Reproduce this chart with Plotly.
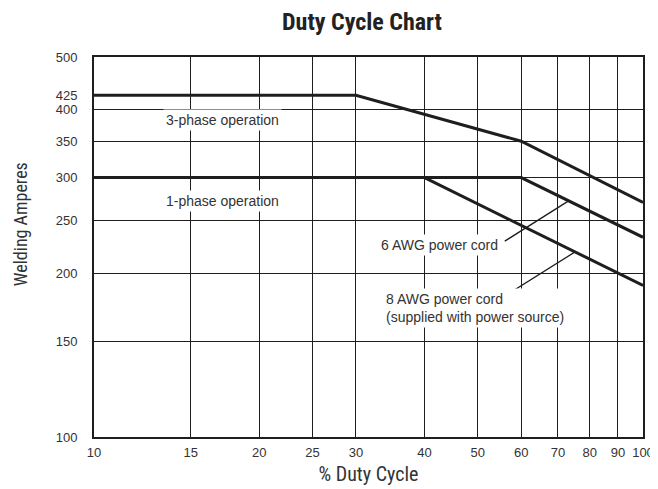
import numpy as np
import plotly.graph_objects as go

# ---- data ----
duty_ticks = [10, 15, 20, 25, 30, 40, 50, 60, 70, 80, 90, 100]
amp_ticks = [100, 150, 200, 250, 300, 350, 400, 425, 500]
amp_grid = [100, 150, 200, 250, 300, 350, 400, 500]

three_phase_x = [10, 30, 60, 100]
three_phase_y = [425, 425, 350, 270]

awg6_x = [10, 60, 100]
awg6_y = [300, 300, 233]

awg8_x = [40, 100]
awg8_y = [300, 190]

LINE = "#1e1e1e"
TXT = "#333333"
NARROW = "Liberation Sans Narrow, Arial Narrow, Roboto Condensed, sans-serif"
REG = "Liberation Sans, Arial, Helvetica, sans-serif"


def on_line(xs, ys, x):
    return 10 ** np.interp(np.log10(x), np.log10(xs), np.log10(ys))


fig = go.Figure()
for xs, ys in [(three_phase_x, three_phase_y), (awg6_x, awg6_y), (awg8_x, awg8_y)]:
    fig.add_trace(go.Scatter(x=xs, y=ys, mode="lines",
                             line=dict(color=LINE, width=3), hoverinfo="skip",
                             showlegend=False))

# leader lines (callouts)
lead6_x = [56.0, 73.2]
lead6_y = [229.2, on_line(awg6_x, awg6_y, 73.2)]
lead8_x = [56.0, 75.2]
lead8_y = [181.6, on_line(awg8_x, awg8_y, 75.2)]
for xs, ys in [(lead6_x, lead6_y), (lead8_x, lead8_y)]:
    fig.add_trace(go.Scatter(x=xs, y=ys, mode="lines",
                             line=dict(color=LINE, width=1.3), hoverinfo="skip",
                             showlegend=False))

ann_font = dict(family=REG, size=14, color=TXT)
annos = [
    dict(text="3-phase operation", x=np.log10(17.12), y=np.log10(383.5),
         xanchor="center", yanchor="middle"),
    dict(text="1-phase operation", x=np.log10(17.12), y=np.log10(271.6),
         xanchor="center", yanchor="middle"),
    dict(text="6 AWG power cord", x=np.log10(55.2), y=np.log10(225.2),
         xanchor="right", yanchor="middle"),
    dict(text="8 AWG power cord<br>(supplied with power source)",
         x=np.log10(33.64), y=np.log10(172.9),
         xanchor="left", yanchor="middle", align="left"),
]
for a in annos:
    fig.add_annotation(xref="x", yref="y", showarrow=False, bgcolor="white",
                       borderpad=2, font=ann_font, **a)

# y axis title
fig.add_annotation(text="Welding Amperes", xref="paper", yref="paper",
                   x=-(86 - 11) / 560, y=(429 - 215.7) / 380,
                   xanchor="center", yanchor="middle", showarrow=False,
                   textangle=-90,
                   font=dict(family=NARROW, size=18, color=TXT))

fig.update_layout(
    width=658, height=489,
    margin=dict(l=86, r=12, t=49, b=60),
    paper_bgcolor="white", plot_bgcolor="white",
    title=dict(text="<b>Duty Cycle Chart</b>", x=354 / 658, xanchor="center",
               y=1 - 14 / 489, yanchor="middle", xref="container", yref="container",
               font=dict(family=NARROW, size=24, color="#222222")),
    xaxis=dict(type="log", range=[1, 2], tickmode="array", tickvals=duty_ticks,
               ticktext=[str(v) for v in duty_ticks], ticks="",
               title=dict(text="% Duty Cycle", standoff=8,
                          font=dict(family=NARROW, size=20, color=TXT)),
               showgrid=True, gridcolor=LINE, gridwidth=1,
               showline=True, linecolor=LINE, linewidth=2, mirror=True,
               zeroline=False, ticklabelstandoff=2, ticklabeloverflow="allow",
               tickfont=dict(family=REG, size=13, color=TXT)),
    yaxis=dict(type="log", range=[2, np.log10(500)], tickmode="array",
               tickvals=amp_ticks, ticktext=[str(v) for v in amp_ticks], ticks="",
               showgrid=False,
               minor=dict(tickmode="array", tickvals=amp_grid, showgrid=True,
                          gridcolor=LINE, gridwidth=1, ticks=""),
               showline=True, linecolor=LINE, linewidth=2, mirror=True,
               zeroline=False, ticklabelstandoff=12,
               tickfont=dict(family=REG, size=13, color=TXT)),
)

fig.write_html("out.html")
